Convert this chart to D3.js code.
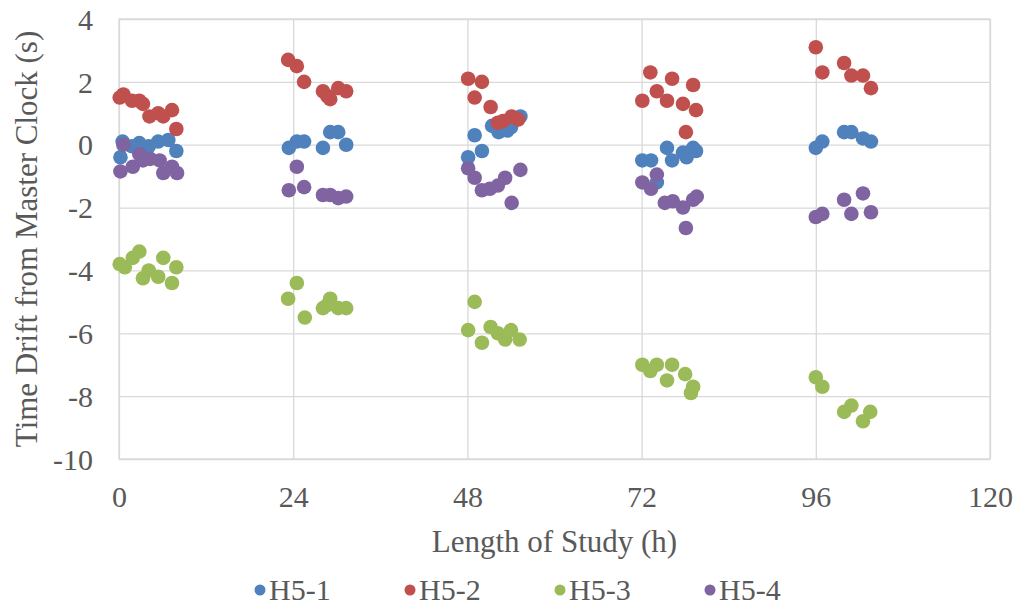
<!DOCTYPE html>
<html>
<head>
<meta charset="utf-8">
<script src="https://cdn.jsdelivr.net/npm/d3@7"></script>
<style>
  html, body { margin: 0; padding: 0; background: #fff; }
  svg text { font-family: "Liberation Serif", "Times New Roman", serif; fill: #595959; }
</style>
</head>
<body>
<svg id="chart" width="1018" height="605"></svg>
<script>
// Hours since start and clock drift (s) for each device
const h51Hours = [0.2, 0.5, 1.8, 2.8, 4.1, 5.4, 6.8, 7.9,
  23.4, 24.5, 25.5, 28.1, 29.1, 30.2, 31.3,
  48.1, 49.0, 50.0, 51.4, 52.3, 53.5, 54.0, 55.3,
  72.1, 73.3, 74.1, 75.5, 76.2, 77.7, 78.2, 79.1, 79.5,
  96.0, 96.9, 99.9, 100.9, 102.5, 103.6];
const h51Drift = [-0.4, 0.1, -0.05, 0.05, -0.05, 0.1, 0.15, -0.2,
  -0.1, 0.1, 0.1, -0.1, 0.4, 0.4, 0.0,
  -0.4, 0.3, -0.2, 0.6, 0.4, 0.45, 0.55, 0.9,
  -0.5, -0.5, -1.2, -0.1, -0.5, -0.25, -0.4, -0.1, -0.2,
  -0.1, 0.1, 0.4, 0.4, 0.2, 0.1];

const h52Hours = [0.1, 0.6, 1.8, 2.8, 3.3, 4.2, 5.4, 6.1, 7.3, 7.9,
  23.3, 24.5, 25.5, 28.1, 28.7, 29.1, 30.2, 31.3,
  48.1, 49.0, 50.0, 51.2, 52.2, 52.9, 54.1, 55.0,
  72.1, 73.2, 74.1, 75.5, 76.2, 77.7, 78.1, 79.1, 79.5,
  96.0, 96.9, 99.9, 100.9, 102.5, 103.6];
const h52Drift = [1.5, 1.6, 1.4, 1.4, 1.3, 0.9, 1.0, 0.9, 1.1, 0.5,
  2.7, 2.5, 2.0, 1.7, 1.55, 1.45, 1.8, 1.7,
  2.1, 1.5, 2.0, 1.2, 0.7, 0.75, 0.9, 0.8,
  1.4, 2.3, 1.7, 1.4, 2.1, 1.3, 0.4, 1.9, 1.1,
  3.1, 2.3, 2.6, 2.2, 2.2, 1.8];

const h53Hours = [0.1, 0.8, 1.9, 2.8, 3.3, 4.1, 5.4, 6.1, 7.3, 7.9,
  23.3, 24.5, 25.6, 28.1, 28.7, 29.1, 30.2, 31.3,
  48.1, 49.0, 50.0, 51.2, 52.2, 53.2, 54.0, 55.2,
  72.1, 73.2, 74.1, 75.5, 76.2, 78.0, 78.8, 79.1,
  96.0, 96.9, 99.9, 100.9, 102.5, 103.5];
const h53Drift = [-3.8, -3.9, -3.6, -3.4, -4.25, -4.0, -4.2, -3.6, -4.4, -3.9,
  -4.9, -4.4, -5.5, -5.2, -5.1, -4.9, -5.2, -5.2,
  -5.9, -5.0, -6.3, -5.8, -6.0, -6.2, -5.9, -6.2,
  -7.0, -7.2, -7.0, -7.5, -7.0, -7.3, -7.9, -7.7,
  -7.4, -7.7, -8.5, -8.3, -8.8, -8.5];

const h54Hours = [0.2, 0.6, 1.9, 2.8, 3.3, 4.3, 5.6, 6.1, 7.3, 8.0,
  23.4, 24.5, 25.5, 28.1, 29.1, 30.2, 31.3,
  48.1, 49.0, 50.0, 51.1, 52.2, 53.2, 54.1, 55.3,
  72.1, 73.3, 74.1, 75.2, 76.3, 77.7, 78.1, 79.1, 79.6,
  96.0, 96.9, 99.9, 100.9, 102.5, 103.6];
const h54Drift = [-0.85, 0.0, -0.7, -0.3, -0.5, -0.45, -0.5, -0.9, -0.7, -0.9,
  -1.45, -0.7, -1.35, -1.6, -1.6, -1.7, -1.65,
  -0.75, -1.05, -1.45, -1.4, -1.3, -1.05, -1.85, -0.8,
  -1.2, -1.4, -0.95, -1.85, -1.8, -2.0, -2.65, -1.75, -1.65,
  -2.3, -2.2, -1.75, -2.2, -1.55, -2.15];

const seriesNames = ["H5-1", "H5-2", "H5-3", "H5-4"];
const seriesColors = ["#4F81BD", "#C0504D", "#9BBB59", "#8064A2"];
const seriesHours = [h51Hours, h52Hours, h53Hours, h54Hours];
const seriesDrift = [h51Drift, h52Drift, h53Drift, h54Drift];

const xTicks = [0, 24, 48, 72, 96, 120];
const yTicks = [4, 2, 0, -2, -4, -6, -8, -10];

const svg = d3.select("#chart");
const plot = { left: 119, right: 990, top: 19, bottom: 459 };

const x = d3.scaleLinear().domain([0, 120]).range([plot.left, plot.right]);
const y = d3.scaleLinear().domain([-10, 4]).range([plot.bottom, plot.top]);

const gridColor = "#d9d9d9";
const labelFont = "30px";
const titleFont = "31px";
const plainNumber = d => String(d);   // ASCII hyphen for negatives

// horizontal gridlines
svg.append("g")
  .attr("transform", `translate(${plot.left},0)`)
  .call(d3.axisLeft(y).tickValues(yTicks).tickSize(-(plot.right - plot.left)).tickFormat(""))
  .call(g => g.select(".domain").remove())
  .call(g => g.selectAll("line").attr("stroke", gridColor).attr("stroke-width", 1.3));

// vertical gridlines
svg.append("g")
  .attr("transform", `translate(0,${plot.bottom})`)
  .call(d3.axisBottom(x).tickValues(xTicks).tickSize(-(plot.bottom - plot.top)).tickFormat(""))
  .call(g => g.select(".domain").remove())
  .call(g => g.selectAll("line").attr("stroke", gridColor).attr("stroke-width", 1.3));

// plot frame
svg.append("rect")
  .attr("x", plot.left).attr("y", plot.top)
  .attr("width", plot.right - plot.left).attr("height", plot.bottom - plot.top)
  .attr("fill", "none").attr("stroke", gridColor).attr("stroke-width", 1.3);

// y tick labels
svg.append("g")
  .attr("transform", `translate(${plot.left},0)`)
  .call(d3.axisLeft(y).tickValues(yTicks).tickSize(0).tickPadding(26).tickFormat(plainNumber))
  .call(g => g.select(".domain").remove())
  .call(g => g.selectAll("text")
    .attr("dy", "0.34em")
    .style("font-family", "'Liberation Serif', serif")
    .style("font-size", labelFont).attr("fill", "#595959"));

// x tick labels
svg.append("g")
  .attr("transform", `translate(0,${plot.bottom})`)
  .call(d3.axisBottom(x).tickValues(xTicks).tickSize(0).tickPadding(27).tickFormat(plainNumber))
  .call(g => g.select(".domain").remove())
  .call(g => g.selectAll("text")
    .style("font-family", "'Liberation Serif', serif")
    .style("font-size", labelFont).attr("fill", "#595959"));

// axis titles
svg.append("text")
  .attr("x", (plot.left + plot.right) / 2).attr("y", 552)
  .attr("text-anchor", "middle")
  .style("font-size", titleFont)
  .text("Length of Study (h)");

svg.append("text")
  .attr("transform", `translate(37,${(plot.top + plot.bottom) / 2}) rotate(-90)`)
  .attr("text-anchor", "middle")
  .style("font-size", titleFont)
  .text("Time Drift from Master Clock (s)");

// markers
seriesNames.forEach((name, i) => {
  const pts = seriesHours[i].map((h, k) => [h, seriesDrift[i][k]]);
  svg.append("g")
    .selectAll("circle")
    .data(pts)
    .join("circle")
    .attr("cx", d => x(d[0]))
    .attr("cy", d => y(d[1]))
    .attr("r", 7.3)
    .attr("fill", seriesColors[i]);
});

// legend
const legend = svg.append("g").attr("transform", "translate(260,590)");
seriesNames.forEach((name, i) => {
  const g = legend.append("g").attr("transform", `translate(${i * 150},0)`);
  g.append("circle").attr("cx", 0).attr("cy", 0).attr("r", 5.5).attr("fill", seriesColors[i]);
  g.append("text").attr("x", 9).attr("y", 10).style("font-size", labelFont).text(name);
});
</script>
</body>
</html>
